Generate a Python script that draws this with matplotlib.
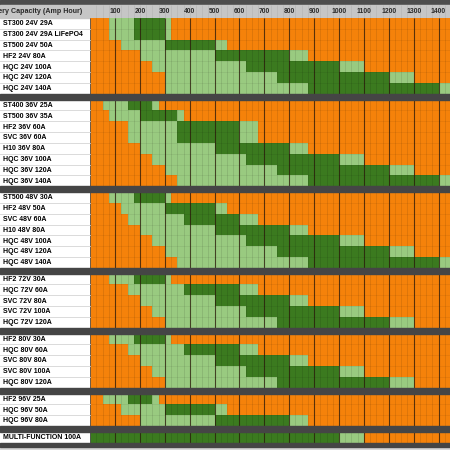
import numpy as np
import matplotlib.pyplot as plt

# charger models, grouped by voltage (top to bottom)
labels = [
    'ST300 24V 29A', 'ST300 24V 29A LiFePO4', 'ST500 24V 50A', 'HF2 24V 80A',
    'HQC 24V 100A', 'HQC 24V 120A', 'HQC 24V 140A',
    'ST400 36V 25A', 'ST500 36V 35A', 'HF2 36V 60A', 'SVC 36V 60A', 'H10 36V 80A',
    'HQC 36V 100A', 'HQC 36V 120A', 'HQC 36V 140A',
    'ST500 48V 30A', 'HF2 48V 50A', 'SVC 48V 60A', 'H10 48V 80A',
    'HQC 48V 100A', 'HQC 48V 120A', 'HQC 48V 140A',
    'HF2 72V 30A', 'HQC 72V 60A', 'SVC 72V 80A', 'SVC 72V 100A', 'HQC 72V 120A',
    'HF2 80V 30A', 'HQC 80V 60A', 'SVC 80V 80A', 'SVC 80V 100A', 'HQC 80V 120A',
    'HF2 96V 25A', 'HQC 96V 50A', 'HQC 96V 80A',
    'MULTI-FUNCTION 100A',
]
block_sizes = [7, 8, 7, 5, 5, 3, 1]

# capacity ranges in Ah: acceptable from / recommended from / recommended to / acceptable to
ok_from = [75, 75, 125, 200, 250, 300, 300,
           50, 75, 150, 150, 200, 250, 300, 350,
           75, 125, 150, 200, 250, 300, 350,
           75, 150, 200, 250, 300,
           75, 150, 200, 250, 300,
           50, 125, 200,
           0]
best_from = [175, 175, 300, 500, 625, 750, 875,
             150, 200, 350, 350, 500, 625, 750, 875,
             175, 300, 375, 500, 625, 750, 875,
             175, 375, 500, 625, 750,
             175, 375, 500, 625, 750,
             150, 300, 500,
             0]
best_to = [300, 300, 500, 800, 1000, 1200, 1400,
           250, 350, 600, 600, 800, 1000, 1200, 1400,
           300, 500, 600, 800, 1000, 1200, 1400,
           300, 600, 800, 1000, 1200,
           300, 600, 800, 1000, 1200,
           250, 500, 800,
           1000]
ok_to = [325, 325, 550, 875, 1100, 1300, 1500,
         275, 375, 675, 675, 875, 1100, 1300, 1500,
         325, 550, 675, 875, 1100, 1300, 1500,
         325, 675, 875, 1100, 1300,
         325, 675, 875, 1100, 1300,
         275, 550, 875,
         1100]
ticks = [100, 200, 300, 400, 500, 600, 700, 800, 900, 1000, 1100, 1200, 1300, 1400]
x_max = 1500

ORANGE = '#f5820a'
LIGHT = '#99ca80'
DARK = '#3b7a1f'
BAND = '#454545'

fig = plt.figure(figsize=(4.5, 4.5), dpi=100)
ax = fig.add_axes([0, 0, 1, 1])
ax.set_xlim(-362.5, 1446)
ax.set_ylim(39.89, -1.662)
ax.axis('off')

# row centres and group separators (1 unit = one row)
sep = 0.535
y = 0.0
centers, seps, blocks = [], [], []
for i, n in enumerate(block_sizes):
    top = y
    for _ in range(n):
        centers.append(y + 0.5)
        y += 1
    blocks.append((top, y))
    s = sep if i < len(block_sizes) - 1 else 0.37
    seps.append((y, y + s))
    y += s
centers = np.array(centers)

# header
ax.axhspan(-1.662, -1.2, color='#4d4d4d', zorder=1)
ax.axhspan(-1.2, 0, color='#c6c6c6', zorder=1)
ax.axhspan(y, 39.89, color='#d8d8d8', zorder=1)
ax.text(-33, -0.58, 'Battery Capacity (Amp Hour)', ha='right', va='center',
        fontsize=5.1, fontweight='bold', family='Liberation Sans', color='#2a2a2a', zorder=5)
for t in ticks:
    ax.text(t, -0.58, str(t), ha='center', va='center', fontsize=4.9,
            fontweight='bold', family='Liberation Sans', color='#2a2a2a', zorder=5)

# coloured ranges
for yc, a, b, c, d in zip(centers, ok_from, best_from, best_to, ok_to):
    edges = [0, a, b, c, d, x_max]
    cols = [ORANGE, LIGHT, DARK, LIGHT, ORANGE]
    for k in range(5):
        if edges[k + 1] > edges[k]:
            ax.barh(yc, edges[k + 1] - edges[k], left=edges[k], height=1.0,
                    color=cols[k], edgecolor='none', zorder=2)

# grid lines
minor = np.arange(25, x_max, 25)
for top, bot in blocks:
    ax.vlines(minor, top, bot, color='black', alpha=0.13, lw=0.5, zorder=3)
    ax.vlines(ticks, top, bot, color='#2b1a0a', alpha=0.75, lw=0.8, zorder=3)
    ax.vlines(0, top, bot, color='#555555', lw=0.6, zorder=3)
ax.vlines(minor, -1.2, 0, color='black', alpha=0.08, lw=0.5, zorder=2)
for yc in centers:
    ax.plot([-362.5, 0], [yc + 0.5, yc + 0.5], color='#d4d4d4', lw=0.6, zorder=3)
    ax.plot([0, x_max], [yc + 0.5, yc + 0.5], color='black', alpha=0.1, lw=0.4, zorder=3)

for s0, s1 in seps:
    ax.axhspan(s0, s1, color=BAND, zorder=4)

# model labels
for yc, lab in zip(centers, labels):
    ax.text(-349, yc + 0.03, lab, ha='left', va='center', fontsize=5.0,
            fontweight='bold', family='Liberation Sans', color='black', zorder=5)

fig.savefig('out.png', dpi=100)
